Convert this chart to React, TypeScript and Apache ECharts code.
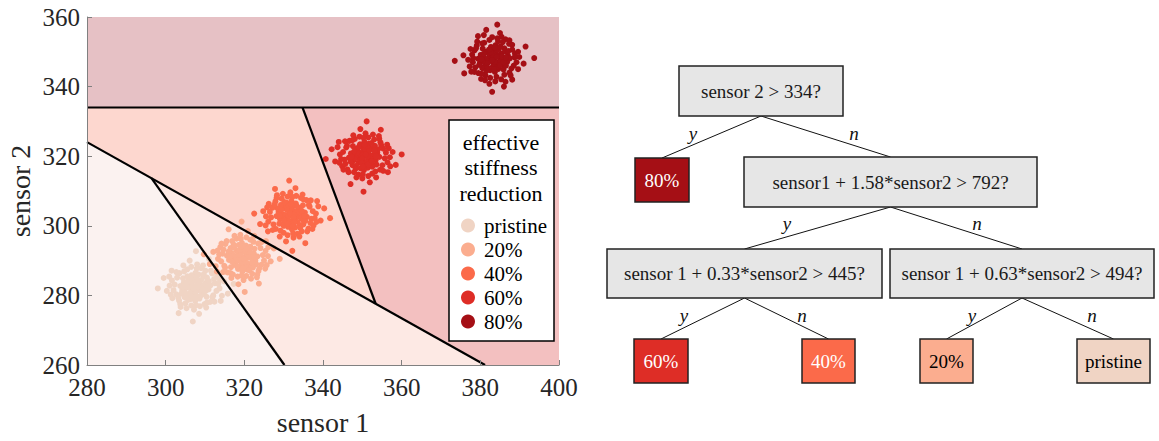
import React, { useEffect, useRef } from "react";
import * as echarts from "echarts";

// ---------- data ----------
const classNames = ["pristine", "20%", "40%", "60%", "80%"];
const classColors = ["#f0d4c4", "#fbad8f", "#fb6a4a", "#de2d26", "#a50f15"];
const regionColors = ["#fbf2f0", "#fde9e4", "#fdd7cf", "#f3c0c0", "#e6c1c5"];

const xMin = 280;
const xMax = 400;
const yMin = 260;
const yMax = 360;
const tickStep = 20;

// split rules: splitA*sensor1 + splitB*sensor2 > splitC
const splitA = [0, 1, 1, 1];
const splitB = [1, 1.58, 0.33, 0.63];
const splitC = [334, 792, 445, 494];

// region of each class: list of [split index, side]
const regionRules: number[][][] = [
  [[0, -1], [1, -1], [3, -1]],
  [[0, -1], [1, -1], [3, 1]],
  [[0, -1], [1, 1], [2, -1]],
  [[0, -1], [1, 1], [2, 1]],
  [[0, 1]],
];
// region in which each split line is drawn
const boundaryParents: number[][][] = [[], [[0, -1]], [[0, -1], [1, 1]], [[0, -1], [1, -1]]];

const pristinePts = [
  [307.5,282.5],[308.7,283.0],[306.4,283.3],[307.9,281.2],[306.9,281.5],[309.8,282.1],[305.3,282.2],[309.0,284.4],[305.8,284.5],[307.7,285.0],
  [307.8,279.9],[310.3,283.7],[304.6,283.6],[309.5,280.4],[305.6,280.2],[310.9,281.7],[304.2,281.5],[308.4,286.0],[306.6,285.8],[308.6,279.1],
  [306.3,278.9],[310.5,285.1],[304.4,284.9],[310.4,279.6],[304.8,279.5],[311.4,282.9],[303.7,282.7],[307.6,286.5],[307.5,278.4],[309.3,282.7],
  [307.0,284.1],[308.3,282.2],[306.0,282.4],[310.0,283.3],[305.1,283.4],[308.5,283.7],[307.3,280.5],[309.1,281.1],[306.2,280.8],[308.1,283.5],
  [306.7,282.6],[309.6,285.3],[305.5,285.5],[308.9,279.9],[306.8,279.6],[311.0,284.1],[304.0,280.5],[309.7,286.1],[305.7,278.7],[308.0,283.1],
  [307.1,282.0],[309.4,281.6],[305.6,284.0],[308.2,284.5],[306.5,284.9],[310.1,281.2],[304.9,280.9],[307.8,285.5],[307.4,279.3],[310.7,282.7],
  [304.5,282.5],[312.5,283.5],[302.3,283.1],[312.1,280.0],[302.7,280.3],[309.0,287.8],[305.5,287.5],[309.9,277.5],[306.5,277.1],[311.8,286.3],
  [303.5,286.4],[311.3,278.1],[303.4,278.5],[313.7,282.0],[301.0,282.8],[308.0,288.9],[307.2,275.9],[313.1,285.4],[301.7,279.2],[310.3,276.5],
  [304.5,288.6],[314.9,284.0],[300.3,281.3],[308.5,274.7],[306.1,290.0],[314.0,278.4],[301.5,287.1],[315.8,280.5],[299.5,285.0],[311.0,290.5],
  [303.3,274.9],[317.3,283.3],[298.0,282.0],[307.7,292.7],[306.9,272.5],
  [312.3,284.7],[302.9,285.1],[311.9,279.5],[303.2,279.3],[310.1,287.1],[304.7,286.9],[310.5,277.9],[305.0,277.7],[312.9,281.3],[302.0,281.5],
  [308.7,276.9],[306.5,288.2],[313.4,283.3],[301.6,284.3],[307.9,287.7],[307.7,277.2],[311.5,287.1],[302.7,286.7],[312.4,278.2],[303.7,277.5],
  [313.8,284.4],[301.3,280.2],[309.5,288.6],[305.3,276.3],[312.8,286.4],[303.8,276.7],[314.3,279.9],[300.9,285.4],
];
const pts20 = [
  [319.5,291.0],[318.3,291.5],[320.6,291.8],[319.1,289.7],[320.1,290.0],[317.2,290.6],[321.7,290.7],[318.0,292.9],[321.2,293.0],[319.3,293.5],
  [319.2,288.4],[316.7,292.2],[322.4,292.1],[317.5,288.9],[321.4,288.7],[316.1,290.2],[322.8,290.0],[318.6,294.5],[320.4,294.3],[318.4,287.6],
  [320.7,287.4],[316.5,293.6],[322.6,293.4],[316.6,288.1],[322.2,288.0],[315.6,291.4],[323.3,291.2],[319.4,295.0],[319.5,286.9],[317.7,291.2],
  [320.0,292.6],[318.7,290.7],[321.0,290.9],[317.0,291.8],[321.9,291.9],[318.5,292.2],[319.7,289.0],[317.9,289.6],[320.8,289.3],[318.9,292.0],
  [320.3,291.1],[317.4,293.8],[321.5,294.0],[318.1,288.4],[320.2,288.1],[316.0,292.6],[323.0,289.0],[317.3,294.6],[321.3,287.2],[319.0,291.6],
  [319.9,290.5],[317.6,290.1],[321.4,292.5],[318.8,293.0],[320.5,293.4],[316.9,289.7],[322.1,289.4],[319.2,294.0],[319.6,287.8],[316.3,291.2],
  [322.5,291.0],[314.5,292.0],[324.7,291.6],[314.9,288.5],[324.3,288.8],[318.0,296.3],[321.5,296.0],[317.1,286.0],[320.5,285.6],[315.2,294.8],
  [323.5,294.9],[315.7,286.6],[323.6,287.0],[313.3,290.5],[326.0,291.3],[319.0,297.4],[319.8,284.4],[313.9,293.9],[325.3,287.7],[316.7,285.0],
  [322.5,297.1],[312.1,292.5],[326.7,289.8],[318.5,283.2],[320.9,298.5],[313.0,286.9],[325.5,295.6],[311.2,289.0],[327.5,293.5],[316.0,299.0],
  [323.7,283.4],[309.7,291.8],[329.0,290.5],[319.3,301.2],[320.1,281.0],
  [314.7,293.2],[324.1,293.6],[315.1,288.0],[323.8,287.8],[316.9,295.6],[322.3,295.4],[316.5,286.4],[322.0,286.2],[314.1,289.8],[325.0,290.0],
  [318.3,285.4],[320.5,296.7],[313.6,291.8],[325.4,292.8],[319.1,296.2],[319.3,285.7],[315.5,295.6],[324.3,295.2],[314.6,286.7],[323.3,286.0],
  [313.2,292.9],[325.7,288.7],[317.5,297.1],[321.7,284.8],[314.2,294.9],[323.2,285.2],[312.7,288.4],[326.1,293.9],
];
const pts40 = [
  [332.0,303.0],[333.2,302.5],[330.9,302.2],[332.4,304.3],[331.4,304.0],[334.3,303.4],[329.8,303.3],[333.5,301.1],[330.3,301.0],[332.2,300.5],
  [332.3,305.6],[334.8,301.8],[329.1,301.9],[334.0,305.1],[330.1,305.3],[335.4,303.8],[328.7,304.0],[332.9,299.5],[331.1,299.7],[333.1,306.4],
  [330.8,306.6],[335.0,300.4],[328.9,300.6],[334.9,305.9],[329.3,306.0],[335.9,302.6],[328.2,302.8],[332.1,299.0],[332.0,307.1],[333.8,302.8],
  [331.5,301.4],[332.8,303.3],[330.5,303.1],[334.5,302.2],[329.6,302.1],[333.0,301.8],[331.8,305.0],[333.6,304.4],[330.7,304.7],[332.6,302.0],
  [331.2,302.9],[334.1,300.2],[330.0,300.0],[333.4,305.6],[331.3,305.9],[335.5,301.4],[328.5,305.0],[334.2,299.4],[330.2,306.8],[332.5,302.4],
  [331.6,303.5],[333.9,303.9],[330.1,301.5],[332.7,301.0],[331.0,300.6],[334.6,304.3],[329.4,304.6],[332.3,300.0],[331.9,306.2],[335.2,302.8],
  [329.0,303.0],[337.0,302.0],[326.8,302.4],[336.6,305.5],[327.2,305.2],[333.5,297.7],[330.0,298.0],[334.4,308.0],[331.0,308.4],[336.3,299.2],
  [328.0,299.1],[335.8,307.4],[327.9,307.0],[338.2,303.5],[325.5,302.7],[332.5,296.6],[331.7,309.6],[337.6,300.1],[326.2,306.3],[334.8,309.0],
  [329.0,296.9],[339.4,301.5],[324.8,304.2],[333.0,310.8],[330.6,295.5],[338.5,307.1],[326.0,298.4],[340.3,305.0],[324.0,300.5],[335.5,295.0],
  [327.8,310.6],[341.8,302.2],[322.5,303.5],[332.2,292.8],[331.4,313.0],
  [336.8,300.8],[327.4,300.4],[336.4,306.0],[327.7,306.2],[334.6,298.4],[329.2,298.6],[335.0,307.6],[329.5,307.8],[337.4,304.2],[326.5,304.0],
  [333.2,308.6],[331.0,297.3],[337.9,302.2],[326.1,301.2],[332.4,297.8],[332.2,308.3],[336.0,298.4],[327.2,298.8],[336.9,307.3],[328.2,308.0],
  [338.3,301.1],[325.8,305.3],[334.0,296.9],[329.8,309.2],[337.3,299.1],[328.3,308.8],[338.8,305.6],[325.4,300.1],
];
const pts60 = [
  [350.5,320.0],[349.3,319.5],[351.6,319.2],[350.1,321.3],[351.1,321.0],[348.2,320.4],[352.7,320.3],[349.0,318.1],[352.2,318.0],[350.3,317.5],
  [350.2,322.6],[347.7,318.8],[353.4,318.9],[348.5,322.1],[352.4,322.3],[347.1,320.8],[353.8,321.0],[349.6,316.5],[351.4,316.7],[349.4,323.4],
  [351.7,323.6],[347.5,317.4],[353.6,317.6],[347.6,322.9],[353.2,323.0],[346.6,319.6],[354.3,319.8],[350.4,316.0],[350.5,324.1],[348.7,319.8],
  [351.0,318.4],[349.7,320.3],[352.0,320.1],[348.0,319.2],[352.9,319.1],[349.5,318.8],[350.7,322.0],[348.9,321.4],[351.8,321.7],[349.9,319.0],
  [351.3,319.9],[348.4,317.2],[352.5,317.0],[349.1,322.6],[351.2,322.9],[347.0,318.4],[354.0,322.0],[348.3,316.4],[352.3,323.8],[350.0,319.4],
  [350.9,320.5],[348.6,320.9],[352.4,318.5],[349.8,318.0],[351.5,317.6],[347.9,321.3],[353.1,321.6],[350.2,317.0],[350.6,323.2],[347.3,319.8],
  [353.5,320.0],[345.5,319.0],[355.7,319.4],[345.9,322.5],[355.3,322.2],[349.0,314.7],[352.5,315.0],[348.1,325.0],[351.5,325.4],[346.2,316.2],
  [354.5,316.1],[346.7,324.4],[354.6,324.0],[344.3,320.5],[357.0,319.7],[350.0,313.6],[350.8,326.6],[344.9,317.1],[356.3,323.3],[347.7,326.0],
  [353.5,313.9],[343.1,318.5],[357.7,321.2],[349.5,327.8],[351.9,312.5],[344.0,324.1],[356.5,315.4],[342.2,322.0],[358.5,317.5],[347.0,312.0],
  [354.7,327.6],[340.7,319.2],[360.0,320.5],[350.3,309.8],[351.1,330.0],
  [345.7,317.8],[355.1,317.4],[346.1,323.0],[354.8,323.2],[347.9,315.4],[353.3,315.6],[347.5,324.6],[353.0,324.8],[345.1,321.2],[356.0,321.0],
  [349.3,325.6],[351.5,314.3],[344.6,319.2],[356.4,318.2],[350.1,314.8],[350.3,325.3],[346.5,315.4],[355.3,315.8],[345.6,324.3],[354.3,325.0],
  [344.2,318.1],[356.7,322.3],[348.5,313.9],[352.7,326.2],[345.2,316.1],[354.2,325.8],[343.7,322.6],[357.1,317.1],
];
const pts80 = [
  [383.5,348.0],[384.0,349.2],[384.3,346.9],[382.2,348.4],[382.5,347.4],[383.1,350.3],[383.2,345.8],[385.4,349.5],[385.5,346.3],[386.0,348.2],
  [380.9,348.3],[384.7,350.8],[384.6,345.1],[381.4,350.0],[381.2,346.1],[382.7,351.4],[382.5,344.7],[387.0,348.9],[386.8,347.1],[380.1,349.1],
  [379.9,346.8],[386.1,351.0],[385.9,344.9],[380.6,350.9],[380.5,345.3],[383.9,351.9],[383.7,344.2],[387.5,348.1],[379.4,348.0],[383.7,349.8],
  [385.1,347.5],[383.2,348.8],[383.4,346.5],[384.3,350.5],[384.4,345.6],[384.7,349.0],[381.5,347.8],[382.1,349.6],[381.8,346.7],[384.5,348.6],
  [383.6,347.2],[386.3,350.1],[386.5,346.0],[380.9,349.4],[380.6,347.3],[385.1,351.5],[381.5,344.5],[387.1,350.2],[379.7,346.2],[384.1,348.5],
  [383.0,347.6],[382.6,349.9],[385.0,346.1],[385.5,348.7],[385.9,347.0],[382.2,350.6],[381.9,345.4],[386.5,348.3],[380.3,347.9],[383.7,351.2],
  [383.5,345.0],[384.5,353.0],[384.1,342.8],[381.0,352.6],[381.3,343.2],[388.8,349.5],[388.5,346.0],[378.5,350.4],[378.1,347.0],[387.3,352.3],
  [387.4,344.0],[379.1,351.8],[379.5,343.9],[383.0,354.2],[383.8,341.5],[389.9,348.5],[376.9,347.7],[386.4,353.6],[380.2,342.2],[377.5,350.8],
  [389.6,345.0],[385.0,355.4],[382.3,340.8],[375.7,349.0],[391.0,346.6],[379.4,354.5],[388.1,342.0],[381.5,356.3],[386.0,340.0],[391.5,351.5],
  [375.9,343.8],[384.3,357.8],[383.0,338.5],[393.7,348.2],[373.5,347.4],
  [385.7,352.8],[386.1,343.4],[380.5,352.4],[380.3,343.7],[388.1,350.6],[387.9,345.2],[378.9,351.0],[378.7,345.5],[382.3,353.4],[382.5,342.5],
  [377.9,349.2],[389.2,347.0],[384.3,353.9],[385.3,342.1],[388.7,348.4],[378.2,348.2],[388.1,352.0],[387.7,343.2],[379.2,352.9],[378.5,344.2],
  [385.4,354.3],[381.2,341.8],[389.6,350.0],[377.3,345.8],[387.4,353.3],[377.7,344.3],[380.9,354.8],[386.4,341.4],
];
const classPoints = [pristinePts, pts20, pts40, pts60, pts80];

const legendTitle = ["effective", "stiffness", "reduction"];
const questions = [
  "sensor 2 > 334?",
  "sensor1 + 1.58*sensor2 > 792?",
  "sensor 1 + 0.33*sensor2 > 445?",
  "sensor 1 + 0.63*sensor2 > 494?",
];
const leafOrder = [4, 3, 2, 1, 0]; // leaves left to right: 80%, 60%, 40%, 20%, pristine
const leafTextColors = ["#fff", "#fff", "#fff", "#000", "#000"];

// ---------- geometry helpers ----------
type P = number[];
function fval(k: number, p: P) {
  return splitA[k] * p[0] + splitB[k] * p[1] - splitC[k];
}
function clipPoly(poly: P[], k: number, side: number): P[] {
  const out: P[] = [];
  for (let i = 0; i < poly.length; i++) {
    const p = poly[i];
    const q = poly[(i + 1) % poly.length];
    const fp = side * fval(k, p);
    const fq = side * fval(k, q);
    if (fp >= 0) out.push(p);
    if (fp >= 0 !== fq >= 0) {
      const t = fp / (fp - fq);
      out.push([p[0] + t * (q[0] - p[0]), p[1] + t * (q[1] - p[1])]);
    }
  }
  return out;
}
function regionPoly(rules: number[][]): P[] {
  let poly: P[] = [[xMin, yMin], [xMax, yMin], [xMax, yMax], [xMin, yMax]];
  rules.forEach(([k, s]) => {
    poly = clipPoly(poly, k, s);
  });
  return poly;
}
function cutLine(poly: P[], k: number): P[] {
  const pts: P[] = [];
  for (let i = 0; i < poly.length; i++) {
    const p = poly[i];
    const q = poly[(i + 1) % poly.length];
    const fp = fval(k, p);
    const fq = fval(k, q);
    if (Math.abs(fp) < 1e-9) pts.push(p);
    else if (fp * fq < 0) {
      const t = fp / (fp - fq);
      pts.push([p[0] + t * (q[0] - p[0]), p[1] + t * (q[1] - p[1])]);
    }
  }
  return pts.slice(0, 2);
}

const SERIF = "Liberation Serif";

function txt(text: string, x: number, y: number, size: number, fill: string, z: number, italic = false) {
  return {
    type: "text",
    z,
    x,
    y,
    style: {
      text,
      fontFamily: SERIF,
      fontSize: size,
      fontStyle: italic ? "italic" : "normal",
      fill,
      align: "center",
      verticalAlign: "middle",
    },
  };
}

function buildTree(): any[] {
  const els: any[] = [];
  const boxStroke = "#222";
  const qBoxes = [
    { x: 679, y: 66, w: 164, h: 50 },
    { x: 744, y: 157, w: 293, h: 50 },
    { x: 607, y: 249, w: 275, h: 49 },
    { x: 890, y: 249, w: 264, h: 49 },
  ];
  const leafBoxes = [
    { x: 635, y: 158, w: 54, h: 44 },
    { x: 634, y: 339, w: 54, h: 44 },
    { x: 802, y: 339, w: 53, h: 44 },
    { x: 920, y: 339, w: 53, h: 44 },
    { x: 1077, y: 339, w: 73, h: 44 },
  ];
  // [parent question index, child kind, child index, label, label x, label y]
  const edges: any[] = [
    [0, "l", 0, "y", 693, 133],
    [0, "q", 1, "n", 854, 133],
    [1, "q", 2, "y", 787, 223],
    [1, "q", 3, "n", 977, 223],
    [2, "l", 1, "y", 684, 315],
    [2, "l", 2, "n", 802, 315],
    [3, "l", 3, "y", 972, 315],
    [3, "l", 4, "n", 1092, 315],
  ];
  edges.forEach(([pi, kind, ci, lab, lx, ly]) => {
    const p = qBoxes[pi];
    const c = kind === "q" ? qBoxes[ci] : leafBoxes[ci];
    els.push({
      type: "line",
      z: 1,
      shape: { x1: p.x + p.w / 2, y1: p.y + p.h, x2: c.x + c.w / 2, y2: c.y },
      style: { stroke: "#111", lineWidth: 1 },
    });
    els.push(txt(lab, lx, ly, 19, "#111", 2, true));
  });
  qBoxes.forEach((b, i) => {
    els.push({
      type: "rect",
      z: 2,
      shape: { x: b.x, y: b.y, width: b.w, height: b.h },
      style: { fill: "#e6e6e6", stroke: boxStroke, lineWidth: 1.5 },
    });
    els.push(txt(questions[i], b.x + b.w / 2, b.y + b.h / 2, 19, "#1a1a1a", 3));
  });
  leafBoxes.forEach((b, i) => {
    const cls = leafOrder[i];
    els.push({
      type: "rect",
      z: 2,
      shape: { x: b.x, y: b.y, width: b.w, height: b.h },
      style: { fill: classColors[cls], stroke: boxStroke, lineWidth: 1.5 },
    });
    els.push(txt(classNames[cls], b.x + b.w / 2, b.y + b.h / 2, 19, leafTextColors[i], 3));
  });
  return els;
}

export default function App() {
  const ref = useRef<HTMLDivElement>(null);
  useEffect(() => {
    document.body.style.margin = "0";
    if (!ref.current) return;
    const chart = echarts.init(ref.current, null, { renderer: "svg" });

    const regions = regionRules.map(regionPoly);
    const segments = boundaryParents.map((rules, k) => cutLine(regionPoly(rules), k));

    const axisCommon = {
      type: "value",
      interval: tickStep,
      z: 10,
      splitLine: { show: false },
      axisLine: { show: true, lineStyle: { color: "#808080", width: 1 } },
      axisTick: { show: true, inside: true, length: 5, lineStyle: { color: "#808080" } },
      nameLocation: "middle",
      nameTextStyle: { fontFamily: SERIF, fontSize: 28, color: "#262626" },
    };

    const option: any = {
      animation: false,
      textStyle: { fontFamily: SERIF },
      grid: { left: 87, right: 600, top: 17, bottom: 70 },
      xAxis: {
        ...axisCommon,
        min: xMin,
        max: xMax,
        name: "sensor 1",
        nameGap: 43,
        axisLabel: { fontFamily: SERIF, fontSize: 25, color: "#262626", margin: 10 },
      },
      yAxis: {
        ...axisCommon,
        min: yMin,
        max: yMax,
        name: "sensor 2",
        nameGap: 53,
        axisLabel: { fontFamily: SERIF, fontSize: 25, color: "#262626", margin: 7 },
      },
      legend: {
        data: classNames,
        orient: "vertical",
        left: 461,
        top: 215,
        padding: 0,
        itemWidth: 14,
        itemHeight: 14,
        itemGap: 3,
        icon: "circle",
        selectedMode: false,
        z: 10,
        textStyle: { fontFamily: SERIF, fontSize: 21, color: "#000", padding: [0, 0, 0, 4] },
      },
      graphic: [
        {
          type: "rect",
          z: 5,
          shape: { x: 449, y: 120, width: 105, height: 221 },
          style: { fill: "#fff", stroke: "#000", lineWidth: 1.5 },
        },
        ...legendTitle.map((t, i) => txt(t, 501, 142 + i * 25.5, 22, "#000", 6)),
        ...buildTree(),
      ],
      series: [
        {
          type: "custom",
          z: 1,
          silent: true,
          data: regions.map((_, i) => [i]),
          encode: { x: -1, y: -1 },
          renderItem: (params: any, api: any) => {
            const poly = regions[params.dataIndex];
            return {
              type: "polygon",
              shape: { points: poly.map((p) => api.coord(p)) },
              style: { fill: regionColors[params.dataIndex], stroke: "none" },
            };
          },
        },
        ...classPoints.map((pts, i) => ({
          type: "scatter",
          name: classNames[i],
          z: 2,
          symbol: "circle",
          symbolSize: 6,
          data: pts,
          itemStyle: { color: classColors[i], opacity: 1 },
        })),
        {
          type: "custom",
          z: 3,
          silent: true,
          data: segments.map((_, i) => [i]),
          encode: { x: -1, y: -1 },
          renderItem: (params: any, api: any) => {
            const s = segments[params.dataIndex];
            const a = api.coord(s[0]);
            const b = api.coord(s[1]);
            return {
              type: "line",
              shape: { x1: a[0], y1: a[1], x2: b[0], y2: b[1] },
              style: { stroke: "#000", lineWidth: 2.2 },
            };
          },
        },
      ],
    };
    chart.setOption(option);
    return () => chart.dispose();
  }, []);
  return <div ref={ref} style={{ width: 1159, height: 441 }} />;
}
